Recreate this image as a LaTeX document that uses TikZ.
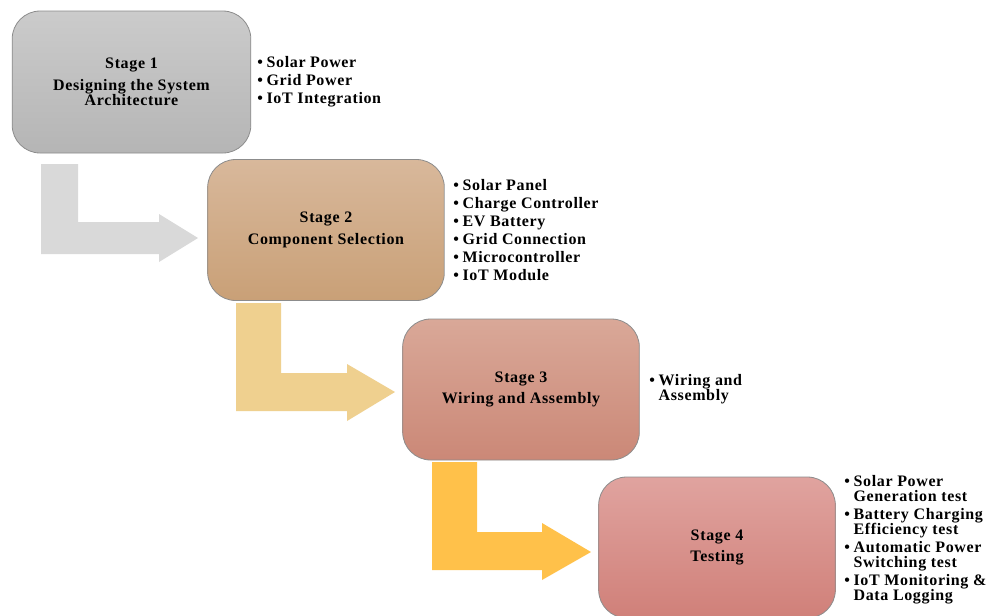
\documentclass[tikz,border=0pt]{standalone}
\usepackage{fontspec}
\setmainfont{Liberation Serif}
\newfontfamily\lblfont[LetterSpace=4]{Liberation Serif}
\definecolor{gAtop}{HTML}{CBCBCB}
\definecolor{gAbot}{HTML}{B5B5B5}
\definecolor{gBtop}{HTML}{D8B89B}
\definecolor{gBbot}{HTML}{C9A077}
\definecolor{gCtop}{HTML}{D9A898}
\definecolor{gCbot}{HTML}{CB8877}
\definecolor{gDtop}{HTML}{E0A39F}
\definecolor{gDbot}{HTML}{D08079}
\definecolor{boxline}{HTML}{8C8C8C}
\definecolor{arrA}{HTML}{D9D9D9}
\definecolor{arrB}{HTML}{EFD08F}
\definecolor{arrC}{HTML}{FFC14A}
\newcommand\itm{\makebox[7pt][l]{\textbullet}}
\newcommand\ind{\hspace*{7pt}}
\begin{document}
\begin{tikzpicture}[x=0.75pt,y=-0.75pt,
  stagebox/.style={draw=boxline, line width=0.6pt, rounded corners=21pt,
    minimum width=177.5pt, minimum height=105.75pt, align=center, inner sep=0pt,
    font=\lblfont\bfseries\fontsize{12pt}{11.4pt}\selectfont},
  listtext/.style={anchor=west, align=left, inner sep=0pt,
    font=\lblfont\bfseries\fontsize{12pt}{11.25pt}\selectfont},
  bentarrow/.style={draw=none}]
\clip (0,0) rectangle (988,615);
\fill[white] (0,0) rectangle (988,615);

% bent block arrows
\fill[bentarrow, arrA] (41,164) -- (78,164) -- (78,222) -- (159,222) -- (159,214) -- (198,238) -- (159,262) -- (159,254) -- (41,254) -- cycle;
\fill[bentarrow, arrB] (236,303) -- (281,303) -- (281,373) -- (347,373) -- (347,364) -- (395,392) -- (347,421) -- (347,411) -- (236,411) -- cycle;
\fill[bentarrow, arrC] (432,462) -- (477,462) -- (477,532) -- (542,532) -- (542,523) -- (591,552) -- (542,580) -- (542,570) -- (432,570) -- cycle;

% stage boxes
\node[stagebox, top color=gAtop, bottom color=gAbot, minimum width=179pt, minimum height=106.5pt] (s1) at (131.5,82)
  {Stage 1\\[5pt]Designing the System\\Architecture};
\node[stagebox, top color=gBtop, bottom color=gBbot] (s2) at (326,230)
  {Stage 2\\[5pt]Component Selection};
\node[stagebox, top color=gCtop, bottom color=gCbot] (s3) at (521,389.5)
  {Stage 3\\[5pt]Wiring and Assembly};
\node[stagebox, top color=gDtop, bottom color=gDbot] (s4) at (717,547.5)
  {Stage 4\\[5pt]Testing};

% bullet lists
\node[listtext] (l1) at (257,81.5)
  {\itm Solar Power\\[2.25pt]\itm Grid Power\\[2.25pt]\itm IoT Integration};
\node[listtext] (l2) at (453,230)
  {\itm Solar Panel\\[2.25pt]\itm Charge Controller\\[2.25pt]\itm EV Battery\\[2.25pt]\itm Grid Connection\\[2.25pt]\itm Microcontroller\\[2.25pt]\itm IoT Module};
\node[listtext] (l3) at (649,389)
  {\itm Wiring and\\\ind Assembly};
\node[listtext] (l4) at (844,539.5)
  {\itm Solar Power\\\ind Generation test\\[2.25pt]\itm Battery Charging\\\ind Efficiency test\\[2.25pt]\itm Automatic Power\\\ind Switching test\\[2.25pt]\itm IoT Monitoring \&\\\ind Data Logging};
\end{tikzpicture}
\end{document}
